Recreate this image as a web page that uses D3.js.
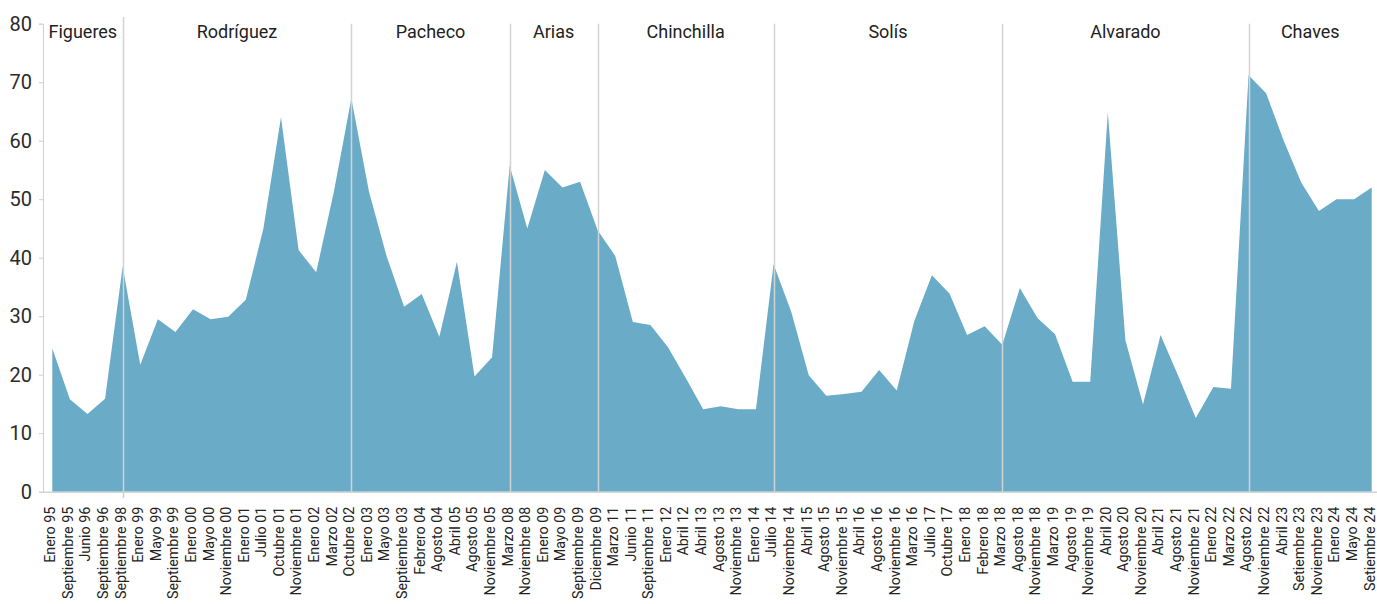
<!DOCTYPE html>
<html>
<head>
<meta charset="utf-8">
<script src="https://cdn.jsdelivr.net/npm/d3@7"></script>
<style>
  html, body { margin: 0; padding: 0; background: #fff; }
  svg { display: block; font-family: Roboto, "Noto Sans", sans-serif; }
</style>
</head>
<body>
<svg id="chart" width="1377" height="604"></svg>
<script>
// Survey dates (x categories)
const fechas = [
  "Enero 95", "Septiembre 95", "Junio 96", "Septiembre 96", "Septiembre 98",
  "Enero 99", "Mayo 99", "Septiembre 99", "Enero 00", "Mayo 00",
  "Noviembre 00", "Enero 01", "Julio 01", "Octubre 01", "Noviembre 01",
  "Enero 02", "Marzo 02", "Octubre 02", "Enero 03", "Mayo 03",
  "Septiembre 03", "Febrero 04", "Agosto 04", "Abril 05", "Agosto 05",
  "Noviembre 05", "Marzo 08", "Noviembre 08", "Enero 09", "Mayo 09",
  "Septiembre 09", "Diciembre 09", "Marzo 11", "Junio 11", "Septiembre 11",
  "Enero 12", "Abril 12", "Abril 13", "Agosto 13", "Noviembre 13",
  "Enero 14", "Julio 14", "Noviembre 14", "Abril 15", "Agosto 15",
  "Noviembre 15", "Abril 16", "Agosto 16", "Noviembre 16", "Marzo 16",
  "Julio 17", "Octubre 17", "Enero 18", "Febrero 18", "Marzo 18",
  "Agosto 18", "Noviembre 18", "Marzo 19", "Agosto 19", "Noviembre 19",
  "Abril 20", "Agosto 20", "Noviembre 20", "Abril 21", "Agosto 21",
  "Noviembre 21", "Enero 22", "Marzo 22", "Agosto 22", "Noviembre 22",
  "Abril 23", "Setiembre 23", "Noviembre 23", "Enero 24", "Mayo 24",
  "Setiembre 24"
];

// Values per survey
const valores = [
  24.5, 15.8, 13.3, 15.9, 38.5,
  21.7, 29.5, 27.3, 31.2, 29.5,
  29.9, 32.8, 45.0, 64.0, 41.3,
  37.5, 51.2, 67.2, 51.3, 40.3,
  31.6, 33.8, 26.5, 39.3, 19.7,
  23.0, 55.7, 45.0, 55.0, 52.0,
  53.0, 44.7, 40.3, 29.0, 28.5,
  24.7, 19.5, 14.1, 14.6, 14.1,
  14.1, 38.9, 30.8, 19.9, 16.4,
  16.7, 17.1, 20.8, 17.3, 29.2,
  37.0, 33.9, 26.8, 28.3, 25.1,
  34.8, 29.7, 26.9, 18.8, 18.8,
  64.8, 25.9, 14.9, 26.8, 19.8,
  12.6, 17.9, 17.6, 71.2, 68.1,
  60.0, 52.8, 48.0, 50.0, 50.0,
  52.0
];

// Administrations: name and the survey where each term begins
const gobiernos = ["Figueres", "Rodríguez", "Pacheco", "Arias", "Chinchilla", "Solís", "Alvarado", "Chaves"];
const inicios = ["Enero 95", "Septiembre 98", "Octubre 02", "Marzo 08", "Diciembre 09", "Julio 14", "Marzo 18", "Agosto 22"];

const yTicks = [0, 10, 20, 30, 40, 50, 60, 70, 80];

const svg = d3.select("#chart");
const axisX = 43, plotTop = 23.7, plotBottom = 491.7, plotRight = 1377;

const x = d3.scalePoint().domain(fechas).range([52.3, 1371.7]);
const y = d3.scaleLinear().domain([0, 80]).range([plotBottom, plotTop]);

// Filled area
const area = d3.area()
  .x((d, i) => x(fechas[i]))
  .y0(y(0))
  .y1(d => y(d));

svg.append("path")
  .datum(valores)
  .attr("d", area)
  .attr("fill", "#6aabc8");

// Y axis
const yAxis = svg.append("g")
  .attr("transform", `translate(${axisX},0)`)
  .call(d3.axisLeft(y).tickValues(yTicks).tickSize(4).tickPadding(7));
yAxis.select(".domain").attr("stroke", "#cfcfcf");
yAxis.selectAll(".tick line").attr("stroke", "#cfcfcf");
yAxis.selectAll(".tick text")
  .attr("fill", "#2b2b2b")
  .style("font-size", "20px")
  .style("font-family", "Roboto, sans-serif");

// X axis baseline
svg.append("line")
  .attr("x1", axisX).attr("x2", plotRight)
  .attr("y1", plotBottom + 0.5).attr("y2", plotBottom + 0.5)
  .attr("stroke", "#d4d4d4").attr("stroke-width", 1.5);

// X tick labels, rotated
const xAxis = svg.append("g")
  .attr("transform", `translate(0,${plotBottom})`)
  .call(d3.axisBottom(x).tickSize(0).tickPadding(0));
xAxis.select(".domain").remove();
xAxis.selectAll(".tick text")
  .attr("text-anchor", "end")
  .attr("transform", "translate(-2.5,15) rotate(-90)")
  .attr("dy", "0.34em")
  .attr("y", 0)
  .attr("x", 0)
  .attr("fill", "#222")
  .style("font-size", "14.3px")
  .style("font-family", "Roboto, sans-serif");

// Term dividers
const divX = inicios.slice(1).map(f => x(f));
svg.append("g").selectAll("line")
  .data(divX)
  .join("line")
  .attr("x1", d => Math.round(d) + 0.5)
  .attr("x2", d => Math.round(d) + 0.5)
  .attr("y1", (d, i) => i === 0 ? 17 : plotTop)
  .attr("y2", (d, i) => i === 0 ? 498 : plotBottom)
  .attr("stroke", "#d2d2d2")
  .attr("stroke-width", 1.5);

// Administration names centred within each term
const bounds = [axisX, ...divX, plotRight - 5];
svg.append("g").selectAll("text")
  .data(gobiernos)
  .join("text")
  .attr("x", (d, i) => (bounds[i] + bounds[i + 1]) / 2)
  .attr("y", 38)
  .attr("text-anchor", "middle")
  .attr("fill", "#222")
  .style("font-size", "18px")
  .style("font-weight", 400)
  .text(d => d);
</script>
</body>
</html>
